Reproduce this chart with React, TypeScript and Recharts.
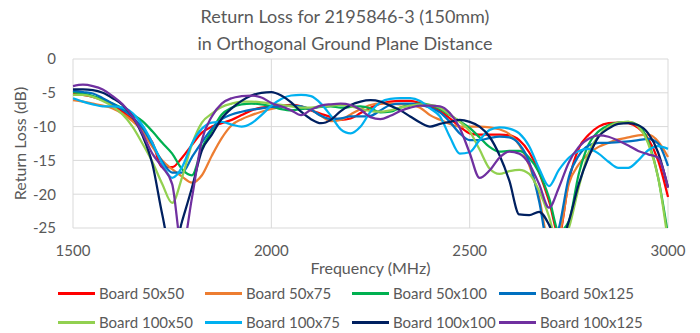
import { CartesianGrid, Label, Line, LineChart, XAxis, YAxis } from "recharts"

const freqs = [
  1500, 1525, 1550, 1575, 1600, 1625, 1650, 1675, 1700, 1725,
  1750, 1775, 1800, 1825, 1850, 1875, 1900, 1925, 1950, 1975,
  2000, 2025, 2050, 2075, 2100, 2125, 2150, 2175, 2200, 2225,
  2250, 2275, 2300, 2325, 2350, 2375, 2400, 2425, 2450, 2475,
  2500, 2525, 2550, 2575, 2600, 2625, 2650, 2675, 2700, 2725,
  2750, 2775, 2800, 2825, 2850, 2875, 2900, 2925, 2950, 2975,
  3000,
]

const board50x50 = [
  -5.1, -5.3, -5.6, -6.1, -6.8, -7.8, -9.0, -10.4, -12.3, -16.0,
  -16.0, -14.6, -12.7, -10.9, -10.0, -9.5, -9.0, -8.3, -7.6, -7.2,
  -7.0, -6.9, -6.8, -7.0, -7.6, -8.1, -8.6, -9.0, -8.8, -8.0,
  -7.2, -6.6, -6.3, -6.2, -6.2, -6.5, -7.0, -7.7, -8.8, -10.0,
  -11.0, -11.2, -11.2, -11.2, -11.3, -12.0, -13.8, -16.8, -21.0, -26.0,
  -18.0, -13.2, -11.2, -10.0, -9.5, -9.4, -9.5, -10.2, -11.8, -15.0,
  -20.4,
]

const board50x75 = [
  -6.1, -6.3, -6.6, -6.9, -7.3, -8.1, -9.2, -10.7, -13.0, -15.0,
  -16.3, -17.4, -18.3, -17.2, -14.3, -11.7, -9.8, -8.9, -8.3, -7.8,
  -7.4, -7.1, -6.9, -7.0, -7.5, -8.4, -9.2, -9.0, -8.2, -7.4,
  -6.8, -6.6, -6.6, -6.7, -6.8, -7.2, -8.3, -9.0, -9.6, -10.0,
  -10.0, -10.0, -10.1, -10.4, -11.1, -12.7, -15.7, -20.5, -27.0, -26.0,
  -18.5, -15.6, -14.0, -13.0, -12.4, -11.9, -11.6, -11.3, -11.2, -12.2,
  -14.5,
]

const board50x100 = [
  -4.9, -5.1, -5.5, -6.0, -6.6, -7.3, -8.2, -9.2, -10.7, -12.4,
  -14.0, -16.3, -17.2, -13.2, -10.6, -8.2, -7.2, -6.7, -6.6, -6.7,
  -7.0, -7.4, -7.6, -7.4, -7.3, -7.1, -7.0, -7.2, -7.1, -7.0,
  -7.3, -7.9, -7.8, -7.2, -6.8, -6.6, -6.8, -7.4, -8.3, -9.2,
  -10.2, -11.6, -13.0, -13.7, -13.6, -13.6, -14.6, -16.8, -20.5, -25.5,
  -24.0, -17.0, -12.6, -10.7, -9.8, -9.4, -9.3, -9.8, -12.2, -17.5,
  -26.0,
]

const board50x125 = [
  -4.7, -4.9, -5.1, -5.8, -6.6, -7.5, -8.6, -10.2, -12.6, -15.2,
  -16.8, -16.8, -14.5, -12.3, -10.3, -8.9, -8.2, -7.8, -7.5, -7.3,
  -7.1, -7.0, -6.9, -7.0, -7.5, -8.4, -8.9, -8.8, -8.5, -8.5,
  -8.4, -7.6, -6.8, -6.6, -6.6, -6.8, -7.2, -7.9, -9.3, -11.0,
  -12.0, -12.0, -11.7, -11.5, -11.6, -12.6, -15.2, -21.0, -28.0, -25.0,
  -17.5, -14.3, -12.8, -12.4, -12.4, -12.3, -12.2, -12.0, -11.8, -12.5,
  -15.8,
]

const board100x50 = [
  -5.3, -5.3, -5.6, -6.2, -7.0, -8.2, -10.0, -12.5, -15.2, -18.5,
  -21.3, -17.5, -12.6, -9.4, -8.1, -7.1, -6.6, -6.3, -6.3, -6.4,
  -6.6, -6.8, -7.0, -7.2, -7.2, -7.0, -6.9, -6.8, -7.0, -7.4,
  -7.7, -7.8, -7.6, -7.2, -6.9, -6.7, -6.8, -7.2, -8.2, -9.3,
  -10.7, -13.4, -16.2, -17.0, -16.6, -16.4, -17.0, -19.5, -23.3, -28.0,
  -25.0, -19.0, -13.8, -11.4, -10.0, -9.4, -9.3, -10.0, -12.5, -17.5,
  -27.0,
]

const board100x75 = [
  -5.8, -6.3, -6.7, -7.0, -7.0, -7.2, -8.0, -9.8, -12.4, -15.5,
  -17.6, -16.0, -12.5, -10.3, -9.4, -9.3, -9.7, -10.0, -9.5, -8.3,
  -6.9, -5.9, -5.4, -5.3, -5.5, -6.6, -8.4, -10.4, -11.0, -10.0,
  -7.8, -6.4, -5.9, -5.8, -5.8, -6.2, -7.3, -8.5, -11.5, -14.0,
  -13.8, -12.0, -10.5, -10.1, -10.3, -11.0, -12.9, -16.2, -18.8, -16.4,
  -14.6, -13.6, -13.3, -14.0, -15.2, -16.1, -16.1, -15.0, -13.5, -12.9,
  -13.3,
]

const board100x100 = [
  -4.5, -4.5, -4.6, -5.0, -5.8, -6.8, -8.5, -11.3, -15.5, -23.0,
  -29.0, -24.0, -19.0, -13.5, -11.2, -8.8, -7.3, -6.2, -5.4, -5.0,
  -4.9, -5.4, -6.4, -7.8, -8.9, -9.5, -9.0, -7.7, -6.8, -6.3,
  -6.1, -6.3, -6.9, -7.6, -8.5, -9.4, -10.0, -9.6, -9.3, -9.0,
  -9.3, -10.0, -11.5, -14.2, -18.0, -23.0, -23.1, -22.6, -24.5, -28.0,
  -24.0, -18.5, -14.5, -11.5, -10.3, -9.6, -9.5, -9.8, -11.0, -13.8,
  -19.0,
]

const board100x125 = [
  -4.0, -3.8, -4.0, -4.5, -5.5, -6.7, -8.5, -11.0, -14.0, -16.0,
  -18.5, -28.0, -20.5, -12.0, -8.5, -6.6, -5.8, -5.5, -5.4, -5.7,
  -6.5, -7.0, -7.6, -8.3, -7.5, -6.9, -6.7, -6.6, -6.8, -7.5,
  -8.6, -8.9, -8.4, -7.7, -7.2, -6.9, -6.9, -7.0, -8.0, -10.2,
  -13.9, -17.6, -16.5, -14.6, -13.7, -14.0, -15.5, -18.5, -22.0, -19.0,
  -15.3, -13.0, -11.8, -11.3, -11.5, -12.1, -12.8, -13.6, -14.1, -14.6,
  -19.0,
]

const xTicks = [1500, 2000, 2500, 3000]
const yTicks = [0, -5, -10, -15, -20, -25]

const series = [
  { key: "b50x50", name: "Board 50x50", color: "#FF0000", values: board50x50 },
  { key: "b50x75", name: "Board 50x75", color: "#ED7D31", values: board50x75 },
  { key: "b50x100", name: "Board 50x100", color: "#00B050", values: board50x100 },
  { key: "b50x125", name: "Board 50x125", color: "#0070C0", values: board50x125 },
  { key: "b100x50", name: "Board 100x50", color: "#92D050", values: board100x50 },
  { key: "b100x75", name: "Board 100x75", color: "#00B0F0", values: board100x75 },
  { key: "b100x100", name: "Board 100x100", color: "#002060", values: board100x100 },
  { key: "b100x125", name: "Board 100x125", color: "#7030A0", values: board100x125 },
]

const rows = freqs.map((f, i) => {
  const row: Record<string, number> = { freq: f }
  series.forEach((s) => {
    row[s.key] = s.values[i]
  })
  return row
})

const font = "Lato, 'Open Sans', sans-serif"
const textColor = "#595959"

export default function App() {
  return (
    <div
      style={{
        position: "absolute",
        left: 0,
        top: 0,
        width: 700,
        height: 333,
        background: "#fff",
        fontFamily: font,
      }}
    >
      <div
        style={{
          position: "absolute",
          left: 0,
          top: 3,
          width: 690,
          textAlign: "center",
          fontSize: 18,
          lineHeight: "27px",
          color: textColor,
        }}
      >
        Return Loss for 2195846-3 (150mm)
        <br />
        in Orthogonal Ground Plane Distance
      </div>

      <LineChart
        width={700}
        height={333}
        data={rows}
        margin={{ top: 59, right: 32, left: 0, bottom: 105 - 52 }}
      >
        <CartesianGrid stroke="#d9d9d9" strokeWidth={1} />
        <XAxis
          dataKey="freq"
          type="number"
          domain={[1500, 3000]}
          ticks={xTicks}
          axisLine={false}
          tickLine={false}
          tickSize={0}
          tickMargin={17}
          height={52}
          tick={{ fill: textColor, fontSize: 15, fontFamily: font }}
        >
          <Label
            value="Frequency (MHz)"
            position="insideBottom"
            offset={6}
            style={{ fill: textColor, fontSize: 16, fontFamily: font }}
          />
        </XAxis>
        <YAxis
          type="number"
          domain={[-25, 0]}
          ticks={yTicks}
          allowDataOverflow
          axisLine={false}
          tickLine={false}
          tickSize={0}
          tickMargin={17}
          width={73}
          tick={{ fill: textColor, fontSize: 15, fontFamily: font }}
        >
          <Label
            value="Return Loss (dB)"
            angle={-90}
            position="insideLeft"
            offset={20}
            style={{ fill: textColor, fontSize: 16, fontFamily: font, textAnchor: "middle" }}
          />
        </YAxis>
        {series.map((s) => (
          <Line
            key={s.key}
            dataKey={s.key}
            name={s.name}
            type="monotone"
            stroke={s.color}
            strokeWidth={2.25}
            dot={false}
            isAnimationActive={false}
          />
        ))}
      </LineChart>

      {series.map((s, i) => (
        <div
          key={s.key}
          style={{
            position: "absolute",
            left: 58 + (i % 4) * 147,
            top: i < 4 ? 284 : 313,
            height: 18,
            display: "flex",
            alignItems: "center",
            fontSize: 15,
            color: textColor,
            whiteSpace: "nowrap",
          }}
        >
          <span style={{ display: "inline-block", width: 37, height: 3, background: s.color, marginRight: 4 }} />
          {s.name}
        </div>
      ))}
    </div>
  )
}
